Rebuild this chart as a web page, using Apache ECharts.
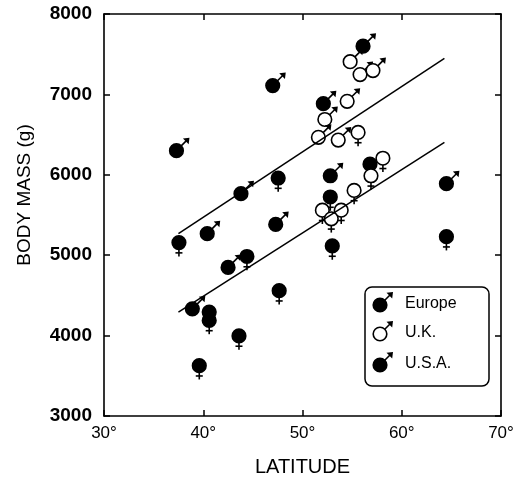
<!DOCTYPE html>
<html>
<head>
<meta charset="utf-8">
<script src="https://cdn.jsdelivr.net/npm/echarts@6/dist/echarts.min.js"></script>
<style>
  html, body { margin: 0; padding: 0; background: #fff; }
  #view { width: 529px; height: 483px; }
</style>
</head>
<body>
<div id="view"></div>
<script>
// [latitude, body mass (g)]
var europeMale = [[56.1, 7600], [52.1, 6885], [52.8, 5988], [64.5, 5889]];
var europeFemale = [[56.8, 6132], [52.8, 5724], [53.0, 5115], [64.5, 5231]];
var ukMale = [[54.8, 7407], [55.8, 7247], [57.1, 7296], [54.5, 6914], [52.25, 6688], [51.6, 6466], [53.6, 6432]];
var ukFemale = [[55.6, 6527], [58.1, 6206], [56.9, 5988], [55.2, 5806], [52.0, 5560], [53.9, 5560], [52.9, 5453]];
var usaMale = [[37.3, 6300], [47.0, 7110], [43.8, 5765], [40.4, 5268], [47.3, 5383], [42.5, 4848], [38.9, 4333]];
var usaFemale = [[47.55, 5960], [37.55, 5157], [44.4, 4984], [40.6, 4292], [40.6, 4189], [47.65, 4559], [43.6, 3996], [39.6, 3626]];
var maleFit = [[37.5, 5268], [64.3, 7448]];
var femaleFit = [[37.5, 4292], [64.3, 6404]];

var font = 'Liberation Sans, Arial, sans-serif';

// circle with the male arrow or female cross
function glyph(cx, cy, male, filled, z) {
    var r = 6.8;
    var kids = [{
        type: 'circle', z: z,
        shape: { cx: cx, cy: cy, r: r },
        style: { fill: filled ? '#000' : '#fff', stroke: '#000', lineWidth: 1.6 }
    }];
    if (male) {
        var tx = cx + 13, ty = cy - 13;
        kids.push({
            type: 'line', z: z,
            shape: { x1: cx + r * 0.7, y1: cy - r * 0.7, x2: tx - 1.5, y2: ty + 1.5 },
            style: { stroke: '#000', lineWidth: 1.6 }
        });
        kids.push({
            type: 'polygon', z: z,
            shape: { points: [[tx, ty], [tx - 6.5, ty + 0.8], [tx - 0.8, ty + 6.5]] },
            style: { fill: '#000' }
        });
    } else {
        kids.push({
            type: 'line', z: z,
            shape: { x1: cx, y1: cy + r, x2: cx, y2: cy + r + 7 },
            style: { stroke: '#000', lineWidth: 1.6 }
        });
        kids.push({
            type: 'line', z: z,
            shape: { x1: cx - 3.5, y1: cy + r + 3.5, x2: cx + 3.5, y2: cy + r + 3.5 },
            style: { stroke: '#000', lineWidth: 1.6 }
        });
    }
    return kids;
}

function pointSeries(name, data, male, filled) {
    return {
        name: name,
        type: 'custom',
        xAxisIndex: 0,
        yAxisIndex: 0,
        data: data,
        z: 2,
        renderItem: function (params, api) {
            var p = api.coord([api.value(0), api.value(1)]);
            return { type: 'group', children: glyph(p[0], p[1], male, filled) };
        }
    };
}

function fitSeries(data) {
    return {
        type: 'line',
        data: data,
        symbol: 'none',
        z: 3,
        lineStyle: { color: '#000', width: 1.5 }
    };
}

var legendX = 380, legendY = [305, 334, 365];
var legendNames = ['Europe', 'U.K.', 'U.S.A.'];
var legendFill = [true, false, true];
var legendGraphics = [{
    type: 'rect',
    shape: { x: 365, y: 287, width: 124, height: 99, r: 7 },
    style: { fill: 'none', stroke: '#000', lineWidth: 1.5 },
    z: 10
}];
legendNames.forEach(function (n, i) {
    legendGraphics = legendGraphics.concat(glyph(legendX, legendY[i], true, legendFill[i], 11));
    legendGraphics.push({
        type: 'text', z: 11,
        style: { text: n, x: 405, y: legendY[i] - 1, fill: '#000', font: '16px ' + font, verticalAlign: 'middle' }
    });
});

var axisCommon = {
    type: 'value',
    axisLine: { show: true, onZero: false, lineStyle: { color: '#000', width: 1.6 } },
    axisTick: { show: true, inside: true, length: 6, lineStyle: { color: '#000', width: 1.5 } },
    splitLine: { show: false }
};

var myChart = echarts.init(document.getElementById('view'));
var option = {
    animation: false,
    backgroundColor: '#fff',
    grid: { left: 104, right: 28, top: 14, bottom: 67 },
    xAxis: [
        Object.assign({}, axisCommon, {
            min: 30, max: 70, interval: 10, position: 'bottom',
            name: 'LATITUDE', nameLocation: 'middle', nameGap: 41,
            nameTextStyle: { color: '#000', fontSize: 20, fontFamily: font },
            axisLabel: { color: '#000', fontSize: 17, fontFamily: font, margin: 9, formatter: '{value}°' }
        }),
        Object.assign({}, axisCommon, {
            min: 30, max: 70, interval: 10, position: 'top',
            axisLabel: { show: false }
        })
    ],
    yAxis: [
        Object.assign({}, axisCommon, {
            min: 3000, max: 8000, interval: 1000, position: 'left',
            name: 'BODY MASS (g)', nameLocation: 'middle', nameGap: 70,
            nameTextStyle: { color: '#000', fontSize: 19, fontFamily: font, padding: [0, 0, 0, 40] },
            axisLabel: { color: '#000', fontSize: 19, fontWeight: 'bold', fontFamily: font, margin: 12,
                formatter: function (v) { return String(v); } }
        }),
        Object.assign({}, axisCommon, {
            min: 3000, max: 8000, interval: 1000, position: 'right',
            axisLabel: { show: false }
        })
    ],
    graphic: legendGraphics,
    series: [
        fitSeries(maleFit),
        fitSeries(femaleFit),
        pointSeries('Europe', europeMale, true, true),
        pointSeries('Europe', europeFemale, false, true),
        pointSeries('U.S.A.', usaMale, true, true),
        pointSeries('U.S.A.', usaFemale, false, true),
        pointSeries('U.K.', ukMale, true, false),
        pointSeries('U.K.', ukFemale, false, false)
    ]
};
myChart.setOption(option);
</script>
</body>
</html>
